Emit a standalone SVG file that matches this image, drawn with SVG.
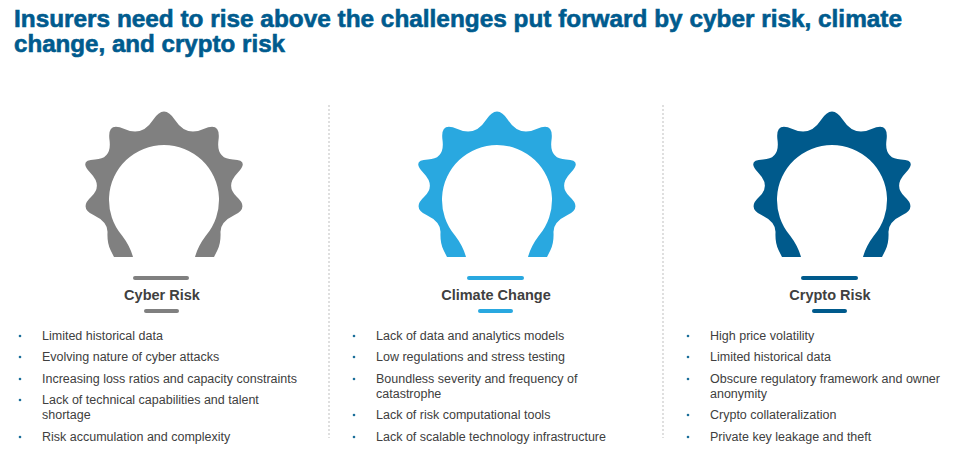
<svg xmlns="http://www.w3.org/2000/svg" width="977" height="471" viewBox="0 0 977 471">
<style>
.t{font-family:"Liberation Sans",Arial,sans-serif;font-weight:bold;font-size:24px;fill:#005b8e;stroke:#005b8e;stroke-width:0.6}
.h{font-family:"Liberation Sans",Arial,sans-serif;font-weight:bold;font-size:14.5px;fill:#404040;text-anchor:middle}
.b{font-family:"Liberation Sans",Arial,sans-serif;font-size:12.5px;fill:#404040}
.d{fill:#1a6e9a}
.div{stroke:#bfbfbf;stroke-width:1;stroke-dasharray:2 2}
</style>
<defs>
<path id="gear" d="M -31 57 L -50 57 L -53.5 50 Q -57 43 -56.5 32.5 Q -56 22 -70.5 15 Q -85 8 -73 -3 Q -61 -14 -73.5 -27 Q -86 -40 -69 -40.5 Q -52 -41 -54.5 -60 Q -57 -79 -39.5 -71 Q -22 -63 -11 -80 Q 0 -97 11 -80 Q 22 -63 39.5 -71 Q 57 -79 54.5 -60 Q 52 -41 69 -40.5 Q 86 -40 73.5 -27 Q 61 -14 73 -3 Q 85 8 70.5 15 Q 56 22 56.5 32.5 Q 57 43 53.5 50 L 50 57 L 31 57 Q 34 46 42 35.5 A 55 55 0 1 0 -42 35.5 Q -34 46 -31 57 Z"/>
</defs>
<text class="t" x="14" y="27" textLength="888" lengthAdjust="spacingAndGlyphs">Insurers need to rise above the challenges put forward by cyber risk, climate</text>
<text class="t" x="14" y="52" textLength="271" lengthAdjust="spacingAndGlyphs">change, and crypto risk</text>
<line class="div" x1="329" y1="105" x2="329" y2="438"/>
<line class="div" x1="663" y1="105" x2="663" y2="438"/>
<g id="cyber">
<use href="#gear" transform="translate(164,200)" fill="#808080"/>
<rect x="133" y="276" width="56" height="4" rx="2" fill="#808080"/>
<text class="h" x="162" y="300">Cyber Risk</text>
<rect x="144" y="309" width="35" height="4" rx="2" fill="#808080"/>
<g class="b">
<circle class="d" cx="20" cy="336" r="1.3"/><text x="42" y="340">Limited historical data</text>
<circle class="d" cx="20" cy="357" r="1.3"/><text x="42" y="361">Evolving nature of cyber attacks</text>
<circle class="d" cx="20" cy="379" r="1.3"/><text x="42" y="383">Increasing loss ratios and capacity constraints</text>
<circle class="d" cx="20" cy="400" r="1.3"/><text x="42" y="404">Lack of technical capabilities and talent</text>
<text x="42" y="419">shortage</text>
<circle class="d" cx="20" cy="437" r="1.3"/><text x="42" y="441">Risk accumulation and complexity</text>
</g>
</g>
<g id="climate">
<use href="#gear" transform="translate(497,200)" fill="#29a8e0"/>
<rect x="467" y="276" width="57" height="4" rx="2" fill="#29a8e0"/>
<text class="h" x="496" y="300">Climate Change</text>
<rect x="478" y="309" width="35" height="4" rx="2" fill="#29a8e0"/>
<g class="b">
<circle class="d" cx="354" cy="336" r="1.3"/><text x="376" y="340">Lack of data and analytics models</text>
<circle class="d" cx="354" cy="357" r="1.3"/><text x="376" y="361">Low regulations and stress testing</text>
<circle class="d" cx="354" cy="379" r="1.3"/><text x="376" y="383">Boundless severity and frequency of</text>
<text x="376" y="398">catastrophe</text>
<circle class="d" cx="354" cy="415" r="1.3"/><text x="376" y="419">Lack of risk computational tools</text>
<circle class="d" cx="354" cy="437" r="1.3"/><text x="376" y="441">Lack of scalable technology infrastructure</text>
</g>
</g>
<g id="crypto">
<use href="#gear" transform="translate(832,200)" fill="#005a8c"/>
<rect x="801" y="276" width="57" height="4" rx="2" fill="#005a8c"/>
<text class="h" x="830" y="300">Crypto Risk</text>
<rect x="812" y="309" width="35" height="4" rx="2" fill="#005a8c"/>
<g class="b">
<circle class="d" cx="688" cy="336" r="1.3"/><text x="710" y="340">High price volatility</text>
<circle class="d" cx="688" cy="357" r="1.3"/><text x="710" y="361">Limited historical data</text>
<circle class="d" cx="688" cy="379" r="1.3"/><text x="710" y="383">Obscure regulatory framework and owner</text>
<text x="710" y="398">anonymity</text>
<circle class="d" cx="688" cy="415" r="1.3"/><text x="710" y="419">Crypto collateralization</text>
<circle class="d" cx="688" cy="437" r="1.3"/><text x="710" y="441">Private key leakage and theft</text>
</g>
</g>
</svg>
